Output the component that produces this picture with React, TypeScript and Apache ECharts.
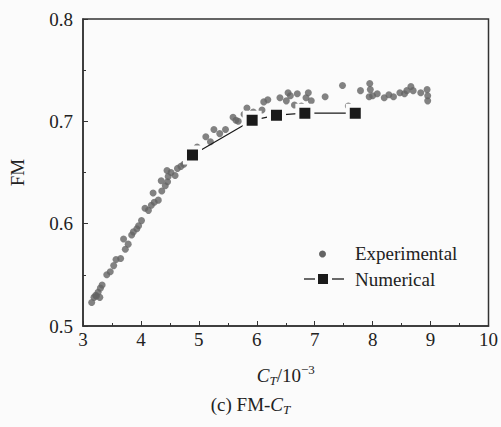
import React, { useEffect, useRef } from "react";
import * as echarts from "echarts";

const expX = [3.15, 3.19, 3.22, 3.23, 3.26, 3.29, 3.30, 3.33, 3.41, 3.47, 3.53, 3.57, 3.65, 3.70, 3.73, 3.78, 3.84, 3.87, 3.93, 3.96, 4.01, 4.07, 4.13, 4.18, 4.21, 4.23, 4.30, 4.35, 4.36, 4.42, 4.45, 4.46, 4.47, 4.52, 4.59, 4.63, 4.69, 4.74, 4.80, 4.97, 5.12, 5.20, 5.26, 5.36, 5.46, 5.59, 5.64, 5.68, 5.78, 5.83, 5.94, 6.09, 6.12, 6.19, 6.40, 6.51, 6.54, 6.58, 6.65, 6.70, 6.77, 6.85, 6.89, 6.94, 7.18, 7.48, 7.58, 7.79, 7.95, 7.96, 7.94, 8.00, 8.08, 8.20, 8.28, 8.36, 8.47, 8.55, 8.59, 8.66, 8.70, 8.83, 8.94, 8.95, 8.95];
const expY = [0.523, 0.528, 0.530, 0.529, 0.533, 0.528, 0.537, 0.540, 0.550, 0.553, 0.559, 0.565, 0.566, 0.585, 0.575, 0.580, 0.589, 0.592, 0.595, 0.598, 0.603, 0.615, 0.613, 0.618, 0.630, 0.621, 0.623, 0.642, 0.632, 0.637, 0.652, 0.641, 0.646, 0.650, 0.647, 0.654, 0.656, 0.658, 0.662, 0.675, 0.685, 0.680, 0.692, 0.688, 0.692, 0.704, 0.701, 0.700, 0.707, 0.713, 0.709, 0.711, 0.719, 0.721, 0.723, 0.720, 0.728, 0.725, 0.716, 0.727, 0.715, 0.723, 0.728, 0.720, 0.724, 0.735, 0.715, 0.730, 0.737, 0.731, 0.724, 0.725, 0.727, 0.723, 0.726, 0.724, 0.728, 0.727, 0.730, 0.734, 0.730, 0.728, 0.731, 0.725, 0.720];

const numX = [4.89, 5.92, 6.34, 6.83, 7.70];
const numY = [0.667, 0.701, 0.706, 0.708, 0.708];

const xTicks = [3, 4, 5, 6, 7, 8, 9, 10];
const yTicks = [0.5, 0.6, 0.7, 0.8];

const FONT = "'Liberation Serif', 'Times New Roman', serif";
const TXT = "#222";
const BG = "#fbfbfb";

export default function App() {
  const ref = useRef<HTMLDivElement>(null);
  useEffect(() => {
    if (!ref.current) return;
    const chart = echarts.init(ref.current, null, { renderer: "svg" });
    const rich = {
      n: { fontFamily: FONT, fontSize: 19, fontWeight: "normal", color: TXT, lineHeight: 24, verticalAlign: "middle" },
      i: { fontFamily: FONT, fontSize: 19, fontWeight: "normal", fontStyle: "italic", color: TXT, lineHeight: 24, verticalAlign: "middle" },
      sub: { fontFamily: FONT, fontSize: 13, fontWeight: "normal", fontStyle: "italic", color: TXT, lineHeight: 13, verticalAlign: "bottom" },
      sup: { fontFamily: FONT, fontSize: 13, fontWeight: "normal", color: TXT, lineHeight: 13, verticalAlign: "top" },
    };
    const labelStyle = { fontFamily: FONT, fontSize: 19, fontWeight: "normal" as const, color: TXT };
    chart.setOption({
      animation: false,
      backgroundColor: BG,
      textStyle: { fontFamily: FONT },
      title: {
        text: "{n|(c) FM-}{i|C}{sub|T}",
        left: "center",
        top: 387,
        textStyle: { fontFamily: FONT, fontWeight: "normal", rich },
      },
      grid: {
        left: 73,
        right: 12,
        top: 19,
        bottom: 101,
        show: true,
        borderColor: "#333",
        borderWidth: 1.5,
        backgroundColor: "transparent",
      },
      xAxis: {
        type: "value",
        min: xTicks[0],
        max: xTicks[xTicks.length - 1],
        interval: 1,
        name: "{i|C}{sub|T}{n|/10}{sup|−3}",
        nameLocation: "middle",
        nameGap: 37,
        nameTextStyle: { fontFamily: FONT, rich },
        axisLine: { show: true, onZero: false, lineStyle: { color: "#333", width: 1.5 } },
        axisTick: { show: true, inside: true, length: 5, lineStyle: { color: "#333" } },
        minorTick: { show: true, splitNumber: 2, length: 3, lineStyle: { color: "#333" } },
        splitLine: { show: false },
        axisLabel: { ...labelStyle, margin: 4 },
      },
      yAxis: {
        type: "value",
        min: yTicks[0],
        max: yTicks[yTicks.length - 1],
        interval: 0.1,
        name: "FM",
        nameLocation: "middle",
        nameGap: 56,
        nameRotate: 90,
        nameTextStyle: labelStyle,
        axisLine: { show: true, onZero: false, lineStyle: { color: "#333", width: 1.5 } },
        axisTick: { show: true, inside: true, length: 5, lineStyle: { color: "#333" } },
        minorTick: { show: true, splitNumber: 2, length: 3, lineStyle: { color: "#333" } },
        splitLine: { show: false },
        axisLabel: {
          ...labelStyle,
          margin: 10,
          formatter: (v: number) => v.toFixed(1),
        },
      },
      series: [
        {
          name: "Experimental",
          type: "scatter",
          symbol: "circle",
          symbolSize: 7,
          itemStyle: { color: "#646464" },
          data: expX.map((x, k) => [x, expY[k]]),
          z: 2,
        },
        {
          name: "Numerical",
          type: "line",
          symbol: "rect",
          symbolSize: 15,
          showSymbol: true,
          lineStyle: { color: "#1a1a1a", width: 1.2 },
          itemStyle: { color: "#1a1a1a", borderColor: BG, borderWidth: 4 },
          data: numX.map((x, k) => [x, numY[k]]),
          z: 3,
        },
      ],
      graphic: [
        { type: "circle", shape: { cx: 322.5, cy: 254, r: 3.5 }, style: { fill: "#646464" } },
        { type: "text", x: 355, y: 253, style: { text: "Experimental", font: "19px 'Liberation Serif', serif", fill: TXT, verticalAlign: "middle" } },
        { type: "line", shape: { x1: 304, y1: 279, x2: 315, y2: 279 }, style: { stroke: "#1a1a1a", lineWidth: 1.3 } },
        { type: "rect", shape: { x: 318, y: 274, width: 10, height: 10 }, style: { fill: "#1a1a1a" } },
        { type: "line", shape: { x1: 332, y1: 279, x2: 344, y2: 279 }, style: { stroke: "#1a1a1a", lineWidth: 1.3 } },
        { type: "text", x: 355, y: 279, style: { text: "Numerical", font: "19px 'Liberation Serif', serif", fill: TXT, verticalAlign: "middle" } },
      ],
    });
    return () => chart.dispose();
  }, []);
  return (
    <div
      ref={ref}
      style={{ position: "fixed", left: 0, top: 0, width: 501, height: 427, background: BG }}
    />
  );
}
